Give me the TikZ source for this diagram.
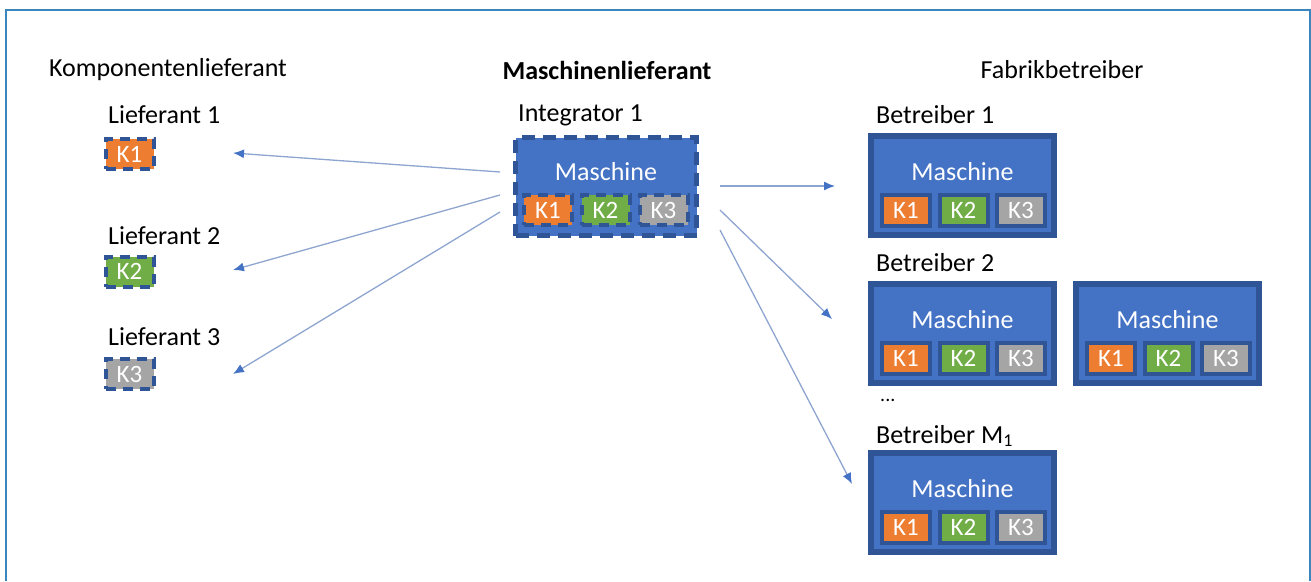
\documentclass[tikz,border=0pt]{standalone}
\usepackage{fontspec}
\setmainfont{Carlito}
\usetikzlibrary{arrows.meta}
\definecolor{mblue}{HTML}{4472C4}
\definecolor{mdark}{HTML}{2F5597}
\definecolor{korange}{HTML}{ED7D31}
\definecolor{kgreen}{HTML}{70AD47}
\definecolor{kgray}{HTML}{A5A5A5}
\definecolor{framec}{HTML}{3A87C0}
\definecolor{aline}{HTML}{8EA5D0}
\tikzset{
  lbl/.style={anchor=west, inner sep=0pt, font=\fontsize{26}{31}\selectfont},
  hdr/.style={inner sep=0pt, font=\fontsize{26}{31}\selectfont},
  machbox/.style={draw=mdark, fill=mblue, line width=6pt, minimum width=183pt, minimum height=99pt, inner sep=0pt},
  intbox/.style={draw=mdark, fill=mblue, line width=5pt, dash pattern=on 13pt off 8pt, minimum width=181pt, minimum height=98pt, inner sep=0pt},
  mtext/.style={text=white, inner sep=0pt, font=\fontsize{26}{31}\selectfont},
  kbox/.style={draw=mdark, line width=4pt, minimum width=48pt, minimum height=31pt, inner sep=0pt, text=white, font=\fontsize{25}{30}\selectfont},
  kdash/.style={draw=mdark, line width=4pt, dash pattern=on 10pt off 7pt, minimum width=48pt, minimum height=30pt, inner sep=0pt, text=white, font=\fontsize{25}{30}\selectfont},
  conn/.style={draw=aline, line width=1.3pt, -{Latex[length=11pt,width=9pt,color=mblue]}}
}
\newcommand\fullmach[3]{%
  \node[machbox] (#1) at (#2+94.5,#3+52.5) {};
  \node[mtext] (#1t) at (#2+94.5,#3+39) {Maschine};
  \node[kbox, fill=korange] (#1k1) at (#2+38,#3+77) {K1};
  \node[kbox, fill=kgreen] (#1k2) at (#2+95.5,#3+77) {K2};
  \node[kbox, fill=kgray] (#1k3) at (#2+153,#3+77) {K3};
}
\begin{document}
\begin{tikzpicture}[x=1pt,y=-1pt]
\useasboundingbox (0,0) rectangle (1311,581);
\draw[framec, line width=2pt] (5.5,581) -- (5.5,10) -- (1309.5,10) -- (1309.5,581);

% headers
\node[hdr] (h1) at (168,70) {Komponentenlieferant};
\node[hdr, font=\fontsize{26}{31}\selectfont\bfseries] (h2) at (607,70) {Maschinenlieferant};
\node[hdr] (h3) at (1062,70) {Fabrikbetreiber};

% suppliers
\node[lbl] (l1) at (108,115) {Lieferant 1};
\node[kdash, fill=korange] (s1) at (129.5,154) {K1};
\node[lbl] (l2) at (108,236) {Lieferant 2};
\node[kdash, fill=kgreen] (s2) at (129.5,271.5) {K2};
\node[lbl] (l3) at (108,337) {Lieferant 3};
\node[kdash, fill=kgray] (s3) at (129.5,374) {K3};

% integrator
\node[lbl] (il) at (518,115) {Integrator 1};
\node[intbox] (int) at (606,186.5) {};
\node[mtext] (intt) at (606,172) {Maschine};
\node[kdash, fill=korange] (ik1) at (548,210) {K1};
\node[kdash, fill=kgreen] (ik2) at (605.5,210) {K2};
\node[kdash, fill=kgray] (ik3) at (663.5,210) {K3};

% operators
\node[lbl] (b1l) at (876,115) {Betreiber 1};
\fullmach{b1}{868}{133}
\node[lbl] (b2l) at (876,263) {Betreiber 2};
\fullmach{b2}{868}{281}
\fullmach{b2b}{1073}{281}
\node[lbl, font=\fontsize{20}{24}\selectfont] (dots) at (880,400) {...};
\node[lbl] (bml) at (876,436) {Betreiber M\raisebox{-0.22ex}{\fontsize{18}{18}\selectfont 1}};
\fullmach{bm}{868}{450}

% connector end points
\coordinate (o1) at (500,172);
\coordinate (o2) at (500,195);
\coordinate (o3) at (500,212);
\coordinate (e1) at (233,153);
\coordinate (e2) at (233,270);
\coordinate (e3) at (233,374);
\coordinate (r1) at (720,186);
\coordinate (r2) at (720,210);
\coordinate (r3) at (720,230);
\coordinate (f1) at (835,186);
\coordinate (f2) at (832,319);
\coordinate (f3) at (852,484);
\draw[conn] (o1) -- (e1);
\draw[conn] (o2) -- (e2);
\draw[conn] (o3) -- (e3);
\draw[conn] (r1) -- (f1);
\draw[conn] (r2) -- (f2);
\draw[conn] (r3) -- (f3);
\end{tikzpicture}
\end{document}
